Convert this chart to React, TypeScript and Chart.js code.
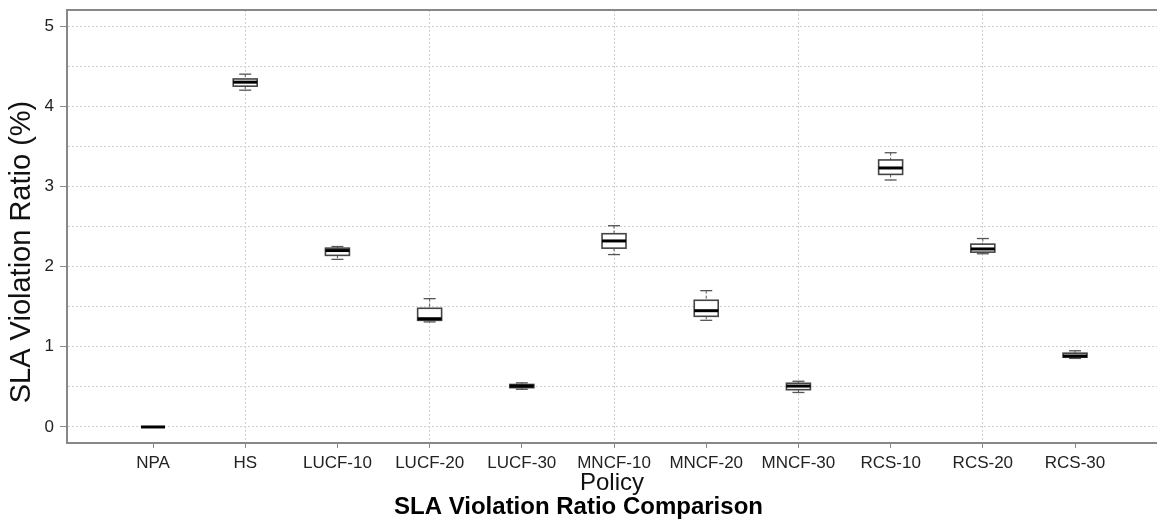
import React, { useEffect, useRef } from 'react';
import { Chart, registerables } from 'chart.js';

Chart.register(...registerables);

const categories = ['NPA', 'HS', 'LUCF-10', 'LUCF-20', 'LUCF-30', 'MNCF-10', 'MNCF-20', 'MNCF-30', 'RCS-10', 'RCS-20', 'RCS-30'];
const whiskerLow = [0, 4.2, 2.09, 1.31, 0.47, 2.15, 1.33, 0.43, 3.08, 2.16, 0.855];
const quartile1 = [0, 4.25, 2.14, 1.33, 0.49, 2.23, 1.38, 0.465, 3.15, 2.18, 0.87];
const medians = [0, 4.3, 2.2, 1.35, 0.51, 2.32, 1.45, 0.51, 3.23, 2.22, 0.885];
const quartile3 = [0, 4.34, 2.23, 1.48, 0.53, 2.41, 1.58, 0.545, 3.33, 2.28, 0.92];
const whiskerHigh = [0, 4.4, 2.25, 1.6, 0.55, 2.51, 1.7, 0.57, 3.42, 2.35, 0.95];
const yTickValues = [0, 0.5, 1, 1.5, 2, 2.5, 3, 3.5, 4, 4.5, 5];

const FONT = '"Liberation Sans", Arial, Helvetica, sans-serif';
const Y_TITLE = 'SLA Violation Ratio (%)';

const boxPlugin = {
  id: 'boxplots',
  afterDatasetsDraw(chart: any) {
    const { ctx, scales } = chart;
    const x = scales.x;
    const y = scales.y;
    const line = (x1: number, y1: number, x2: number, y2: number) => {
      ctx.beginPath();
      ctx.moveTo(x1, y1);
      ctx.lineTo(x2, y2);
      ctx.stroke();
    };
    ctx.save();
    categories.forEach((_, i) => {
      const v = i + 1;
      const cx = x.getPixelForValue(v);
      const left = x.getPixelForValue(v - 0.13);
      const right = x.getPixelForValue(v + 0.13);
      const capL = x.getPixelForValue(v - 0.065);
      const capR = x.getPixelForValue(v + 0.065);
      const yLo = y.getPixelForValue(whiskerLow[i]);
      const yQ1 = y.getPixelForValue(quartile1[i]);
      const yMed = y.getPixelForValue(medians[i]);
      const yQ3 = y.getPixelForValue(quartile3[i]);
      const yHi = y.getPixelForValue(whiskerHigh[i]);
      // whiskers
      ctx.strokeStyle = '#555';
      ctx.lineWidth = 1;
      ctx.setLineDash([3, 2]);
      line(cx, yHi, cx, yQ3);
      line(cx, yQ1, cx, yLo);
      ctx.setLineDash([]);
      ctx.lineWidth = 1.3;
      line(capL, yHi, capR, yHi);
      line(capL, yLo, capR, yLo);
      // box
      ctx.fillStyle = '#ffffff';
      ctx.fillRect(left, yQ3, right - left, yQ1 - yQ3);
      ctx.strokeStyle = '#444';
      ctx.lineWidth = 1.6;
      ctx.strokeRect(left, yQ3, right - left, yQ1 - yQ3);
      // median
      ctx.strokeStyle = '#000';
      ctx.lineWidth = 3;
      line(left, yMed, right, yMed);
    });
    ctx.restore();
  },
};

const framePlugin = {
  id: 'frame',
  afterDraw(chart: any) {
    const { ctx, chartArea } = chart;
    ctx.save();
    ctx.strokeStyle = '#888';
    ctx.lineWidth = 2;
    ctx.beginPath();
    ctx.moveTo(chartArea.left, chartArea.top);
    ctx.lineTo(chartArea.right, chartArea.top);
    ctx.stroke();
    // y axis title
    ctx.translate(21.5, 252);
    ctx.rotate(-Math.PI / 2);
    ctx.font = `29px ${FONT}`;
    ctx.fillStyle = '#111';
    ctx.textAlign = 'center';
    ctx.textBaseline = 'middle';
    ctx.fillText(Y_TITLE, 0, 0);
    ctx.restore();
  },
};

export default function App() {
  const canvasRef = useRef<HTMLCanvasElement | null>(null);

  useEffect(() => {
    if (!canvasRef.current) return;
    const chart = new Chart(canvasRef.current, {
      type: 'scatter',
      data: {
        datasets: [
          {
            label: 'median',
            data: categories.map((_, i) => ({ x: i + 1, y: medians[i] })),
            pointRadius: 0,
            showLine: false,
          },
        ],
      },
      options: {
        animation: false,
        responsive: true,
        maintainAspectRatio: false,
        layout: { padding: { top: 10, left: 0, right: 0, bottom: 0 } },
        plugins: {
          legend: { display: false },
          tooltip: { enabled: false },
          title: {
            display: true,
            position: 'bottom',
            text: 'SLA Violation Ratio Comparison',
            color: '#000',
            font: { family: FONT, size: 24, weight: 'bold', lineHeight: 1 },
            padding: { top: 0, bottom: 1 },
          },
        },
        scales: {
          x: {
            type: 'linear',
            min: 0.067,
            max: 11.889,
            afterBuildTicks: (s: any) => {
              s.ticks = categories.map((_, i) => ({ value: i + 1 }));
            },
            afterFit: (s: any) => {
              s.height = 52;
              s.paddingLeft = 0;
              s.paddingRight = 0;
            },
            ticks: {
              autoSkip: false,
              maxRotation: 0,
              padding: 5,
              color: '#222',
              font: { family: FONT, size: 17 },
              callback: (v: any) => categories[Math.round(Number(v)) - 1] ?? '',
            },
            grid: {
              color: (c: any) => (c.tick && c.tick.value % 2 === 0 ? '#cfcfcf' : 'rgba(0,0,0,0)'),
              lineWidth: 1,
              tickColor: '#888',
              tickLength: 5,
              tickWidth: 1,
              tickBorderDash: [],
            },
            border: { color: '#888', width: 2, dash: [2, 2] },
            title: {
              display: true,
              text: 'Policy',
              color: '#111',
              font: { family: FONT, size: 24, lineHeight: 1 },
              padding: { top: 0, bottom: 0 },
            },
          },
          y: {
            type: 'linear',
            min: -0.2,
            max: 5.2,
            afterBuildTicks: (s: any) => {
              s.ticks = yTickValues.map((v) => ({ value: v }));
            },
            afterFit: (s: any) => {
              s.width = 67;
              s.paddingTop = 0;
              s.paddingBottom = 0;
            },
            ticks: {
              padding: 6,
              color: '#222',
              font: { family: FONT, size: 17 },
              callback: (v: any) => (Number.isInteger(Number(v)) ? String(v) : ''),
            },
            grid: {
              color: '#cfcfcf',
              lineWidth: 1,
              tickColor: (c: any) => (c.tick && Number.isInteger(c.tick.value) ? '#888' : 'rgba(0,0,0,0)'),
              tickLength: 7,
              tickWidth: 1,
              tickBorderDash: [],
            },
            border: { color: '#888', width: 2, dash: [2, 2] },
          },
        },
      },
      plugins: [boxPlugin, framePlugin],
    } as any);
    return () => chart.destroy();
  }, []);

  return (
    <div style={{ position: 'fixed', left: 0, top: 0, width: 1157, height: 520, background: '#fff' }}>
      <canvas ref={canvasRef} />
    </div>
  );
}
